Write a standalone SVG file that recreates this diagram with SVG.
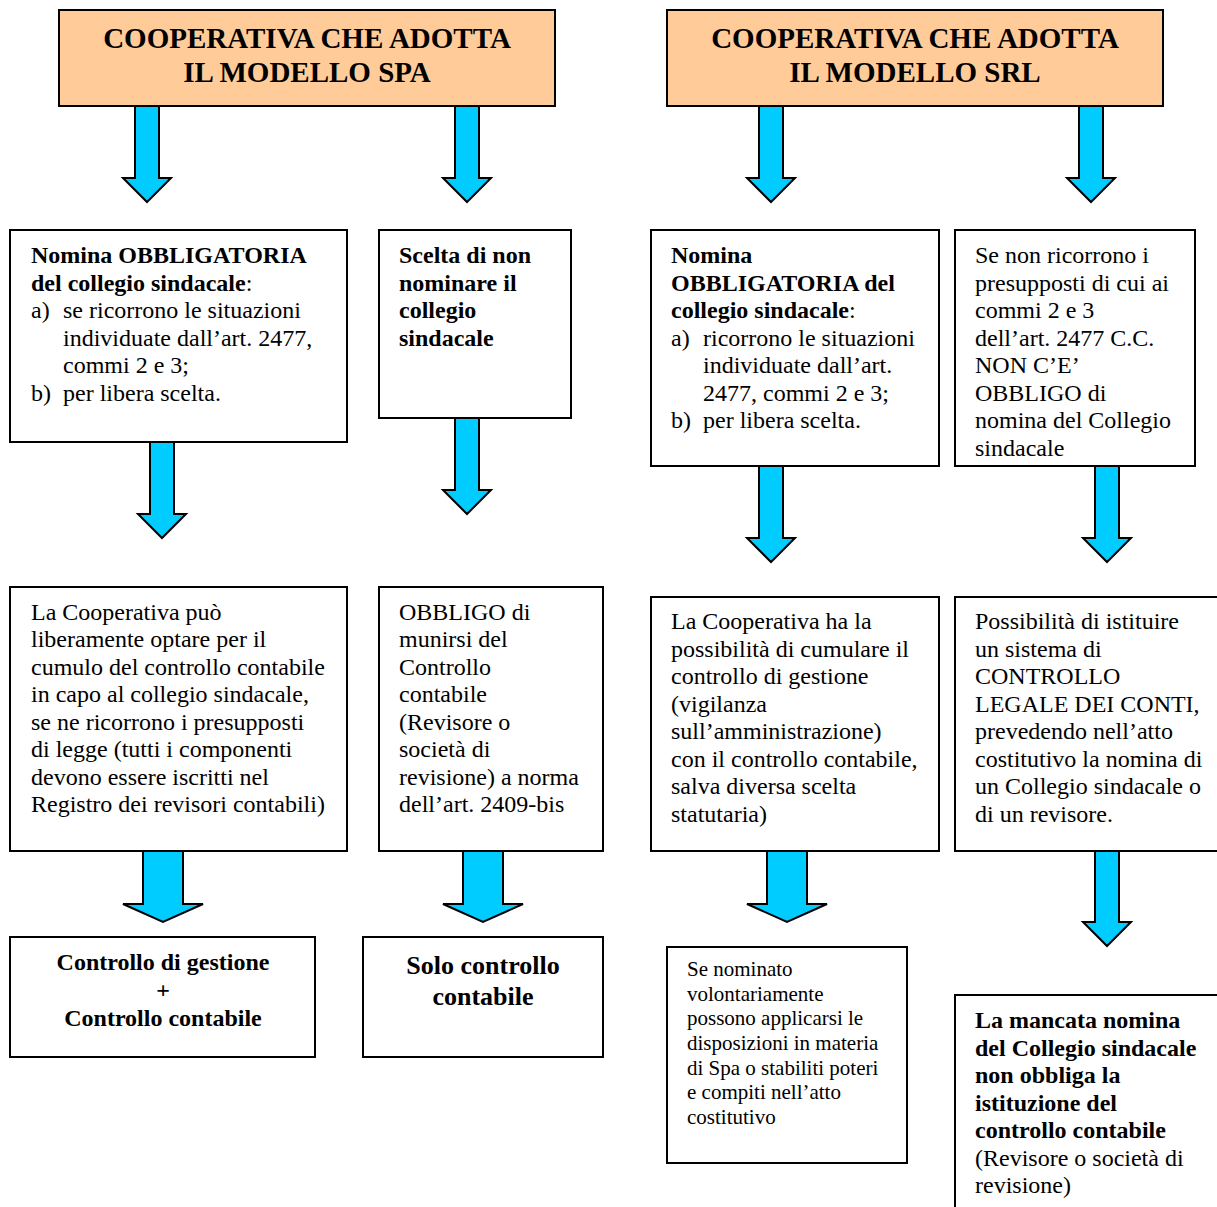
<svg xmlns="http://www.w3.org/2000/svg" width="1217" height="1207" viewBox="0 0 1217 1207" font-family="Liberation Serif, Tinos, DejaVu Serif, serif">
  <style>
    .box { fill: #ffffff; stroke: #000000; stroke-width: 2; }
    .head { fill: #ffcc99; stroke: #000000; stroke-width: 2; }
    .arrow { fill: #00ccff; stroke: #000000; stroke-width: 2; stroke-linejoin: miter; }
    .t { font-size: 24px; }
    .b { font-weight: bold; }
    .title { font-size: 29px; font-weight: bold; text-anchor: middle; }
    .small { font-size: 21px; }
    .mid { text-anchor: middle; }
  </style>

  <rect width="1217" height="1207" fill="#ffffff"/>

  <!-- block arrows between the boxes -->
  <g id="connectors">
    <path class="arrow" d="M135,106 V178 H123 L147,202 L171,178 H159 V106 Z"/>
    <path class="arrow" d="M455,106 V178 H443 L467,202 L491,178 H479 V106 Z"/>
    <path class="arrow" d="M759,106 V178 H747 L771,202 L795,178 H783 V106 Z"/>
    <path class="arrow" d="M1079,106 V178 H1067 L1091,202 L1115,178 H1103 V106 Z"/>

    <path class="arrow" d="M150,442 V514 H138 L162,538 L186,514 H174 V442 Z"/>
    <path class="arrow" d="M455,418 V490 H443 L467,514 L491,490 H479 V418 Z"/>
    <path class="arrow" d="M759,466 V538 H747 L771,562 L795,538 H783 V466 Z"/>
    <path class="arrow" d="M1095,466 V538 H1083 L1107,562 L1131,538 H1119 V466 Z"/>

    <path class="arrow" d="M143,851 V904 H123 L163,922 L203,904 H183 V851 Z"/>
    <path class="arrow" d="M463,851 V904 H443 L483,922 L523,904 H503 V851 Z"/>
    <path class="arrow" d="M767,851 V904 H747 L787,922 L827,904 H807 V851 Z"/>
    <path class="arrow" d="M1095,851 V922 H1083 L1107,946 L1131,922 H1119 V851 Z"/>
  </g>

  <!-- SPA column -->
  <g id="spa-header">
    <rect class="head" x="59" y="10" width="496" height="96"/>
    <text class="title" x="307" y="48">COOPERATIVA CHE ADOTTA</text>
    <text class="title" x="307" y="82">IL MODELLO SPA</text>
  </g>

  <g id="spa-nomina-obbligatoria">
    <rect class="box" x="10" y="230" width="337" height="212"/>
    <text class="t b" x="31" y="263">Nomina OBBLIGATORIA</text>
    <text class="t" x="31" y="291"><tspan class="b">del collegio sindacale</tspan>:</text>
    <text class="t" x="31" y="318">a)</text>
    <text class="t" x="63" y="318">se ricorrono le situazioni</text>
    <text class="t" x="63" y="346">individuate dall’art. 2477,</text>
    <text class="t" x="63" y="373">commi 2 e 3;</text>
    <text class="t" x="31" y="401">b)</text>
    <text class="t" x="63" y="401">per libera scelta.</text>
  </g>

  <g id="spa-scelta-non-nominare">
    <rect class="box" x="379" y="230" width="192" height="188"/>
    <text class="t b" x="399" y="263">Scelta di non</text>
    <text class="t b" x="399" y="291">nominare il</text>
    <text class="t b" x="399" y="318">collegio</text>
    <text class="t b" x="399" y="346">sindacale</text>
  </g>

  <g id="spa-cumulo">
    <rect class="box" x="10" y="587" width="337" height="264"/>
    <text class="t" x="31" y="620">La Cooperativa può</text>
    <text class="t" x="31" y="647">liberamente optare per il</text>
    <text class="t" x="31" y="675">cumulo del controllo contabile</text>
    <text class="t" x="31" y="702">in capo al collegio sindacale,</text>
    <text class="t" x="31" y="730">se ne ricorrono i presupposti</text>
    <text class="t" x="31" y="757">di legge (tutti i componenti</text>
    <text class="t" x="31" y="785">devono essere iscritti nel</text>
    <text class="t" x="31" y="812">Registro dei revisori contabili)</text>
  </g>

  <g id="spa-obbligo-controllo">
    <rect class="box" x="379" y="587" width="224" height="264"/>
    <text class="t" x="399" y="620">OBBLIGO di</text>
    <text class="t" x="399" y="647">munirsi del</text>
    <text class="t" x="399" y="675">Controllo</text>
    <text class="t" x="399" y="702">contabile</text>
    <text class="t" x="399" y="730">(Revisore o</text>
    <text class="t" x="399" y="757">società di</text>
    <text class="t" x="399" y="785">revisione) a norma</text>
    <text class="t" x="399" y="812">dell’art. 2409-bis</text>
  </g>

  <g id="spa-gestione-contabile">
    <rect class="box" x="10" y="937" width="305" height="120"/>
    <text class="t b mid" x="163" y="970">Controllo di gestione</text>
    <text class="t b mid" x="163" y="998">+</text>
    <text class="t b mid" x="163" y="1026">Controllo contabile</text>
  </g>

  <g id="spa-solo-contabile">
    <rect class="box" x="363" y="937" width="240" height="120"/>
    <text class="b mid" font-size="26" x="483" y="974">Solo controllo</text>
    <text class="b mid" font-size="26" x="483" y="1005">contabile</text>
  </g>

  <!-- SRL column -->
  <g id="srl-header">
    <rect class="head" x="667" y="10" width="496" height="96"/>
    <text class="title" x="915" y="48">COOPERATIVA CHE ADOTTA</text>
    <text class="title" x="915" y="82">IL MODELLO SRL</text>
  </g>

  <g id="srl-nomina-obbligatoria">
    <rect class="box" x="651" y="230" width="288" height="236"/>
    <text class="t b" x="671" y="263">Nomina</text>
    <text class="t b" x="671" y="291">OBBLIGATORIA del</text>
    <text class="t" x="671" y="318"><tspan class="b">collegio sindacale</tspan>:</text>
    <text class="t" x="671" y="346">a)</text>
    <text class="t" x="703" y="346">ricorrono le situazioni</text>
    <text class="t" x="703" y="373">individuate dall’art.</text>
    <text class="t" x="703" y="401">2477, commi 2 e 3;</text>
    <text class="t" x="671" y="428">b)</text>
    <text class="t" x="703" y="428">per libera scelta.</text>
  </g>

  <g id="srl-non-obbligo">
    <rect class="box" x="955" y="230" width="240" height="236"/>
    <text class="t" x="975" y="263">Se non ricorrono i</text>
    <text class="t" x="975" y="291">presupposti di cui ai</text>
    <text class="t" x="975" y="318">commi 2 e 3</text>
    <text class="t" x="975" y="346">dell’art. 2477 C.C.</text>
    <text class="t" x="975" y="373">NON C’E’</text>
    <text class="t" x="975" y="401">OBBLIGO di</text>
    <text class="t" x="975" y="428">nomina del Collegio</text>
    <text class="t" x="975" y="456">sindacale</text>
  </g>

  <g id="srl-cumulo">
    <rect class="box" x="651" y="597" width="288" height="254"/>
    <text class="t" x="671" y="629">La Cooperativa ha la</text>
    <text class="t" x="671" y="657">possibilità di cumulare il</text>
    <text class="t" x="671" y="684">controllo di gestione</text>
    <text class="t" x="671" y="712">(vigilanza</text>
    <text class="t" x="671" y="739">sull’amministrazione)</text>
    <text class="t" x="671" y="767">con il controllo contabile,</text>
    <text class="t" x="671" y="794">salva diversa scelta</text>
    <text class="t" x="671" y="822">statutaria)</text>
  </g>

  <g id="srl-controllo-legale">
    <rect class="box" x="955" y="597" width="272" height="254"/>
    <text class="t" x="975" y="629">Possibilità di istituire</text>
    <text class="t" x="975" y="657">un sistema di</text>
    <text class="t" x="975" y="684">CONTROLLO</text>
    <text class="t" x="975" y="712">LEGALE DEI CONTI,</text>
    <text class="t" x="975" y="739">prevedendo nell’atto</text>
    <text class="t" x="975" y="767">costitutivo la nomina di</text>
    <text class="t" x="975" y="794">un Collegio sindacale o</text>
    <text class="t" x="975" y="822">di un revisore.</text>
  </g>

  <g id="srl-nomina-volontaria">
    <rect class="box" x="667" y="947" width="240" height="216"/>
    <text class="small" x="687" y="976">Se nominato</text>
    <text class="small" x="687" y="1001">volontariamente</text>
    <text class="small" x="687" y="1025">possono applicarsi le</text>
    <text class="small" x="687" y="1050">disposizioni in materia</text>
    <text class="small" x="687" y="1075">di Spa o stabiliti poteri</text>
    <text class="small" x="687" y="1099">e compiti nell’atto</text>
    <text class="small" x="687" y="1124">costitutivo</text>
  </g>

  <g id="srl-mancata-nomina">
    <rect class="box" x="955" y="995" width="272" height="222"/>
    <text class="t b" x="975" y="1028">La mancata nomina</text>
    <text class="t b" x="975" y="1056">del Collegio sindacale</text>
    <text class="t b" x="975" y="1083">non obbliga la</text>
    <text class="t b" x="975" y="1111">istituzione del</text>
    <text class="t b" x="975" y="1138">controllo contabile</text>
    <text class="t" x="975" y="1166">(Revisore o società di</text>
    <text class="t" x="975" y="1193">revisione)</text>
  </g>
</svg>
